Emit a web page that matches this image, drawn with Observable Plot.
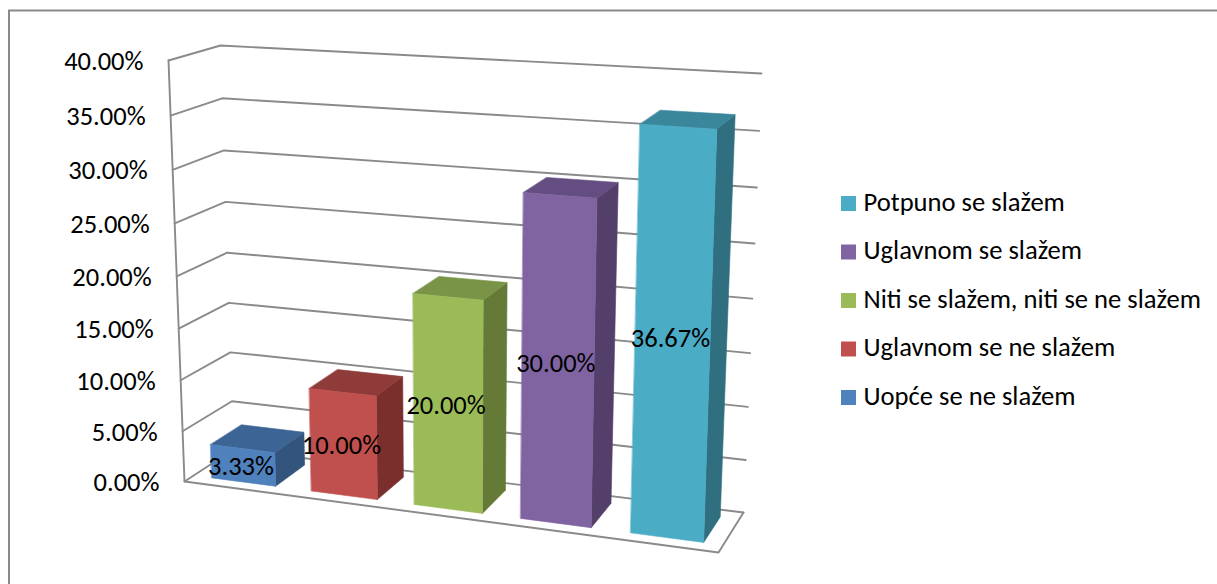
<!DOCTYPE html>
<html>
<head>
<meta charset="utf-8">
<script src="https://cdn.jsdelivr.net/npm/d3@7"></script>
<script src="https://cdn.jsdelivr.net/npm/@observablehq/plot@0.6"></script>
<style>
html,body{margin:0;padding:0;background:#fff;overflow:hidden}
svg{display:block}
</style>
</head>
<body>
<div id="chart"></div>
<script>
const categories = ["Uopće se ne slažem","Uglavnom se ne slažem","Niti se slažem, niti se ne slažem","Uglavnom se slažem","Potpuno se slažem"];
const values = [3.33,10,20,30,36.67];
const valueLabels = ["3.33%","10.00%","20.00%","30.00%","36.67%"];
const ticks = [0,5,10,15,20,25,30,35,40];
const tickLabels = ["0.00%","5.00%","10.00%","15.00%","20.00%","25.00%","30.00%","35.00%","40.00%"];
const frontColors = ["#4f81bd","#c0504d","#9bbb59","#8064a2","#4bacc6"];
const topColors   = ["#3c6494","#8f3b39","#7a9447","#644d80","#3a879c"];
const sideColors  = ["#33547c","#7a2f2d","#667a38","#533f6a","#306f80"];

// The 3D box of the chart, as it is seen on the page: [x, y] of each corner,
// indexed by [u: category axis][v: value axis][w: depth]
const box = [
  [[[184,481],[233,449]], [[168,60],[220,45]]],
  [[[718,552],[743,512]], [[733,94.5],[761,73]]]
];
const persp = (t,k) => t*k/(1+t*(k-1));
const maxV = 40;
function project(u,val,w){
  const a = persp(u,0.92), b = persp(val/maxV,0.95), c = persp(w,1.05);
  const out = [0,1].map(i =>
    (1-a)*((1-b)*((1-c)*box[0][0][0][i]+c*box[0][0][1][i])+b*((1-c)*box[0][1][0][i]+c*box[0][1][1][i]))+
    a*((1-b)*((1-c)*box[1][0][0][i]+c*box[1][0][1][i])+b*((1-c)*box[1][1][0][i]+c*box[1][1][1][i])));
  return {x:out[0],y:out[1]};
}
const GRID = "#8a8a8a";
const lineOpts = {x:"x",y:"y",stroke:GRID,strokeWidth:1.9};
const polygon = (pts,color) => Plot.line(pts,{x:"x",y:"y",fill:color,stroke:color,strokeWidth:0.6,curve:"linear-closed"});

const marks = [];
// frame
marks.push(Plot.ruleX([8.5],{y1:10,y2:584,stroke:GRID,strokeWidth:2}));
marks.push(Plot.ruleY([10],{x1:8,x2:1217,stroke:GRID,strokeWidth:2}));
// grid on the walls
for (const t of ticks) marks.push(Plot.line([project(0,t,0),project(0,t,1),project(1,t,1)],lineOpts));
// value axis and front of the floor
marks.push(Plot.line([project(0,maxV,0),project(0,0,0),project(1,0,0),project(1,0,1)],lineOpts));
// bars
const W0 = 0.18, W1 = 0.82, LEFT = 0.037, RIGHT = 0.166;
categories.forEach((c,i) => {
  const u0 = i/categories.length+LEFT, u1 = i/categories.length+RIGHT, v = values[i];
  marks.push(polygon([project(u1,0,W0),project(u1,0,W1),project(u1,v,W1),project(u1,v,W0)],sideColors[i]));
  marks.push(polygon([project(u0,v,W0),project(u1,v,W0),project(u1,v,W1),project(u0,v,W1)],topColors[i]));
  marks.push(polygon([project(u0,0,W0),project(u1,0,W0),project(u1,v,W0),project(u0,v,W0)],frontColors[i]));
});
const FONT = "Calibri, Carlito, 'Open Sans', sans-serif";
// value axis labels
marks.push(Plot.text(ticks,{
  x:t=>project(0,t,0).x-25, y:t=>project(0,t,0).y+1,
  text:(t,i)=>tickLabels[i], textAnchor:"end", fontSize:26.5, fill:"#000", fontFamily:FONT
}));
// data labels
marks.push(Plot.text(categories,{
  x:(c,i)=>project(i/categories.length+(LEFT+RIGHT)/2,values[i]/2,W0).x-2,
  y:(c,i)=>project(i/categories.length+(LEFT+RIGHT)/2,values[i]/2,W0).y+1.5,
  text:(c,i)=>valueLabels[i], fontSize:26.5, fill:"#000", fontFamily:FONT
}));
// legend (top row is the last category)
const legendItems = categories.map((c,i)=>({c,color:frontColors[i],row:categories.length-1-i}));
const rowY = d => 203.5+48.5*d.row;
legendItems.forEach(d => marks.push(Plot.rect([d],{x1:841,x2:856,y1:e=>rowY(e)-7.5,y2:e=>rowY(e)+7.5,fill:d.color})));
marks.push(Plot.text(legendItems,{x:863,y:d=>rowY(d)-2,text:"c",textAnchor:"start",fontSize:26.6,fill:"#000",fontFamily:FONT}));

const chart = Plot.plot({
  width:1217,height:584,margin:0,
  x:{type:"identity",axis:null},y:{type:"identity",axis:null},
  style:{background:"#fff",overflow:"hidden"},
  marks
});
document.getElementById("chart").append(chart);
</script>
</body>
</html>
